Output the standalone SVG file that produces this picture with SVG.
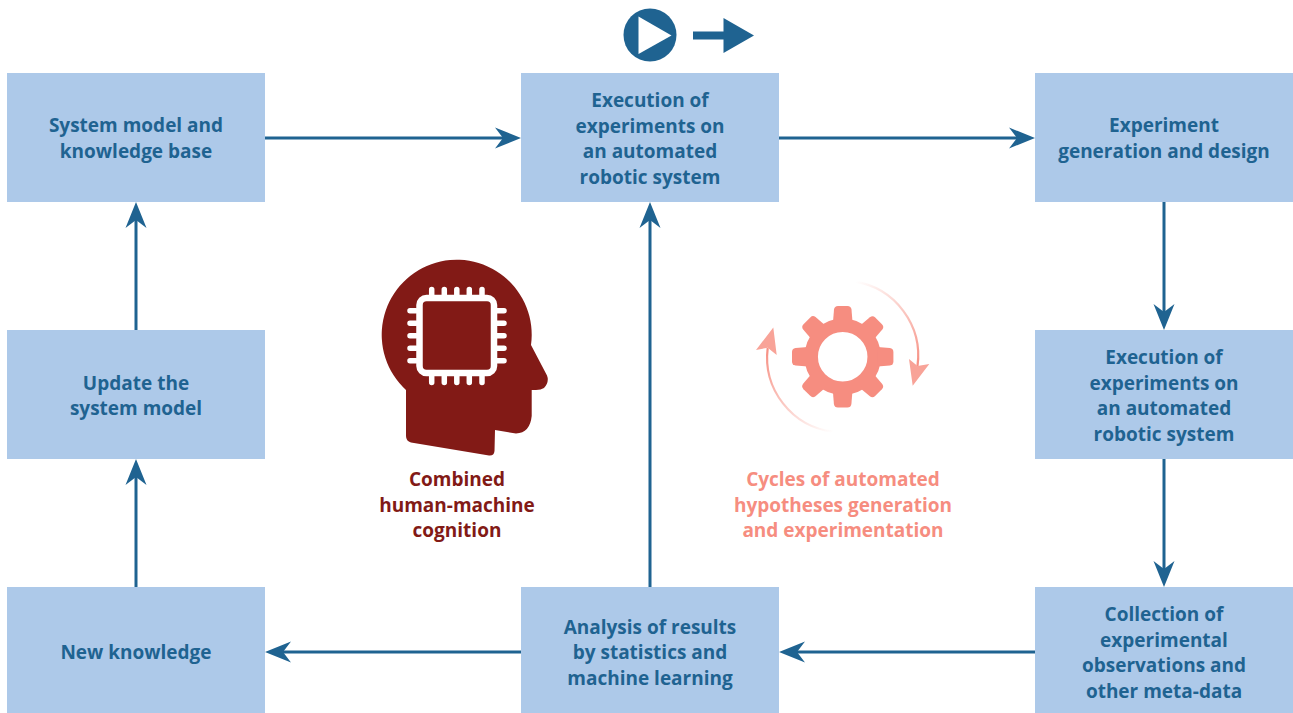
<svg xmlns="http://www.w3.org/2000/svg" width="1293" height="713" viewBox="0 0 1293 713">
<style>
.box{fill:#adc9e9}
text{font-family:"Open Sans","Noto Sans",sans-serif;font-weight:700;font-size:19px;text-anchor:middle}
.t{fill:#1f6391}
.r{fill:#821a16}
.s{fill:#f68d80}
.c{fill:none;stroke:#1f6391;stroke-width:3}
.pin{fill:none;stroke:#fff;stroke-width:5.5;stroke-linecap:round}
</style>
<defs>
<marker id="ah" markerUnits="userSpaceOnUse" markerWidth="28" markerHeight="24" refX="16" refY="11" orient="auto"><path d="M0,0.5 L26,11 L0,21.5 L8,11Z" fill="#1f6391"/></marker>
<linearGradient id="g1" gradientUnits="userSpaceOnUse" x1="855" y1="282" x2="917" y2="370"><stop offset="0" stop-color="#f68d80" stop-opacity="0"/><stop offset="1" stop-color="#f68d80"/></linearGradient>
<linearGradient id="g2" gradientUnits="userSpaceOnUse" x1="833" y1="432" x2="768" y2="345"><stop offset="0" stop-color="#f68d80" stop-opacity="0"/><stop offset="1" stop-color="#f68d80"/></linearGradient>
<path id="tooth" d="M833,322 L834,309.5 Q834.5,306 838,306 L847.5,306 Q851,306 851.500,309.500 L852.500,322Z" fill="#f68d80"/>
</defs>
<g id="connectors">
<path class="c" marker-end="url(#ah)" d="M265,138H511"/>
<path class="c" marker-end="url(#ah)" d="M779,138H1025"/>
<path class="c" marker-end="url(#ah)" d="M1164,202V320"/>
<path class="c" marker-end="url(#ah)" d="M1164,459V577"/>
<path class="c" marker-end="url(#ah)" d="M1035,652H789"/>
<path class="c" marker-end="url(#ah)" d="M521,652H275"/>
<path class="c" marker-end="url(#ah)" d="M136,587V469"/>
<path class="c" marker-end="url(#ah)" d="M136,330V212"/>
<path class="c" marker-end="url(#ah)" d="M650,587V212"/>
</g>
<g id="n1"><rect class="box" x="7" y="73" width="258" height="129"/><text class="t" x="136" y="132">System model and</text><text class="t" x="136" y="158">knowledge base</text></g>
<g id="n2"><rect class="box" x="521" y="73" width="258" height="129"/><text class="t" x="650" y="107">Execution of</text><text class="t" x="650" y="132.500">experiments on</text><text class="t" x="650" y="158">an automated</text><text class="t" x="650" y="184">robotic system</text></g>
<g id="n3"><rect class="box" x="1035" y="73" width="258" height="129"/><text class="t" x="1164" y="132">Experiment</text><text class="t" x="1164" y="158">generation and design</text></g>
<g id="n4"><rect class="box" x="1035" y="330" width="258" height="129"/><text class="t" x="1164" y="364">Execution of</text><text class="t" x="1164" y="390">experiments on</text><text class="t" x="1164" y="415">an automated</text><text class="t" x="1164" y="441">robotic system</text></g>
<g id="n5"><rect class="box" x="1035" y="587" width="258" height="126"/><text class="t" x="1164" y="621">Collection of</text><text class="t" x="1164" y="647">experimental</text><text class="t" x="1164" y="672">observations and</text><text class="t" x="1164" y="698">other meta-data</text></g>
<g id="n6"><rect class="box" x="521" y="587" width="258" height="126"/><text class="t" x="650" y="634">Analysis of results</text><text class="t" x="650" y="659">by statistics and</text><text class="t" x="650" y="685">machine learning</text></g>
<g id="n7"><rect class="box" x="7" y="587" width="258" height="126"/><text class="t" x="136" y="659">New knowledge</text></g>
<g id="n8"><rect class="box" x="7" y="330" width="258" height="129"/><text class="t" x="136" y="390">Update the</text><text class="t" x="136" y="415">system model</text></g>
<g id="play"><circle cx="650" cy="35" r="26.500" fill="#1f6391"/><path d="M638.500,16.500 L671.500,35.500 L638.500,54Z" fill="#fff"/><path d="M693,31.500H723.500V18L754,35.500L723.500,53V39.500H693Z" fill="#1f6391"/></g>
<g id="cognition">
<path fill="#821a16" d="M406,390 A75,75 0 1 1 531,345 L547,375.500 Q549.500,382 544,388 Q541,390 536,390 L531.700,390 L531.700,416 Q530,433 516,433.500 L495,430 L494.500,451 Q494,456 489,455.500 L411,442.500 Q406,441 406,436Z"/>
<rect x="419.500" y="298" width="74.500" height="75" rx="7" fill="#821a16" stroke="#fff" stroke-width="6.500"/>
<path class="pin" d="M431.700,289.500V295M444.300,289.500V295M456.800,289.500V295M469.300,289.500V295M482,289.500V295M431.700,376V382.500M444.300,376V382.500M456.800,376V382.500M469.300,376V382.500M482,376V382.500M410,310.700H416M410,323.300H416M410,335.800H416M410,348.300H416M410,360.800H416M497,310.700H504M497,323.300H504M497,335.800H504M497,348.300H504M497,360.800H504"/>
<text class="r" x="457" y="486">Combined</text><text class="r" x="457" y="512">human-machine</text><text class="r" x="457" y="537">cognition</text>
</g>
<g id="cycles">
<circle cx="842.700" cy="356.700" r="31.500" fill="none" stroke="#f68d80" stroke-width="13.500"/>
<use href="#tooth"/><use href="#tooth" transform="rotate(45 842.700 356.700)"/><use href="#tooth" transform="rotate(90 842.700 356.700)"/><use href="#tooth" transform="rotate(135 842.700 356.700)"/><use href="#tooth" transform="rotate(180 842.700 356.700)"/><use href="#tooth" transform="rotate(225 842.700 356.700)"/><use href="#tooth" transform="rotate(270 842.700 356.700)"/><use href="#tooth" transform="rotate(315 842.700 356.700)"/>
<path d="M855,281.700 A75,75 0 0 1 917.500,366" fill="none" stroke="url(#g1)" stroke-width="2.200"/>
<path d="M909,359 L917.500,366 L929.300,364 L912.700,385.700Z" fill="#f8a398"/>
<path d="M833,431.700 A75,75 0 0 1 767.700,348" fill="none" stroke="url(#g2)" stroke-width="2.200"/>
<path d="M756,350 L767.700,347.700 L776.700,355 L773.300,327.500Z" fill="#f8a398"/>
<text class="s" x="843" y="486">Cycles of automated</text><text class="s" x="843" y="512">hypotheses generation</text><text class="s" x="843" y="537">and experimentation</text>
</g>
</svg>
